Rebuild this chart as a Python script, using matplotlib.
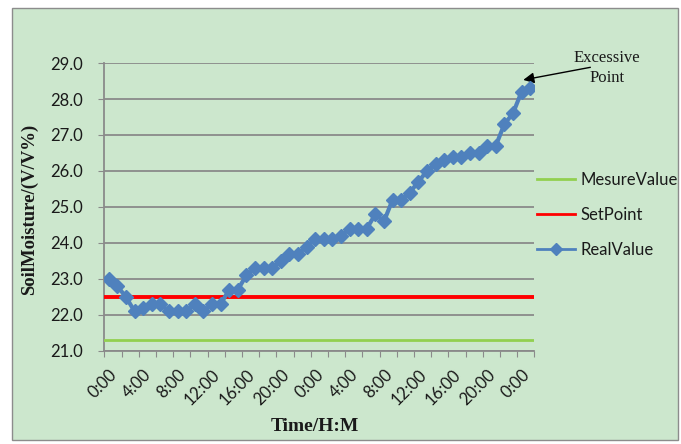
import matplotlib
matplotlib.use("Agg")
import matplotlib.pyplot as plt
from matplotlib.patches import Rectangle

# hourly readings over two days (one per category)
real_value = [23.0, 22.8, 22.5, 22.1, 22.2, 22.3, 22.3, 22.1, 22.1, 22.1,
              22.3, 22.1, 22.3, 22.3, 22.7, 22.7, 23.1, 23.3, 23.3, 23.3,
              23.5, 23.7, 23.7, 23.9, 24.1, 24.1, 24.1, 24.2, 24.4, 24.4,
              24.4, 24.8, 24.6, 25.2, 25.2, 25.4, 25.7, 26.0, 26.2, 26.3,
              26.4, 26.4, 26.5, 26.5, 26.7, 26.7, 27.3, 27.6, 28.2, 28.3]
set_point = 22.5
mesure_value = 21.3
time_labels = ["0:00", "4:00", "8:00", "12:00", "16:00", "20:00", "0:00",
               "4:00", "8:00", "12:00", "16:00", "20:00", "0:00"]
y_ticks = [21.0, 22.0, 23.0, 24.0, 25.0, 26.0, 27.0, 28.0, 29.0]

bg = "#CCE7CD"
grid_col = "#8A8A8A"
txt_col = "#1a1a1a"

fig = plt.figure(figsize=(6.81, 4.44), dpi=100)
fig.patch.set_facecolor("white")
fig.patches.append(Rectangle((12 / 681, 4 / 444), 666 / 681, 432 / 444,
                             transform=fig.transFigure, facecolor=bg,
                             edgecolor="#8C8C8C", linewidth=1, zorder=-5))

ax = fig.add_axes([0.1534, 0.2095, 0.6314, 0.6486])
ax.set_facecolor(bg)

n = len(real_value)
x = list(range(n))
ax.plot([-0.5, n - 0.5], [mesure_value, mesure_value], color="#92D050",
        linewidth=2, label="MesureValue", zorder=3)
ax.plot([-0.5, n - 0.5], [set_point, set_point], color="#FF0000",
        linewidth=2.8, label="SetPoint", zorder=3)
ax.plot(x, real_value, color="#4F81BD", linewidth=3, marker="D",
        markersize=7, label="RealValue", zorder=4)

ax.set_xlim(-0.5, n - 0.5)
ax.set_ylim(21, 29)
ax.set_yticks(y_ticks)
ax.set_yticklabels([f"{v:.1f}" for v in y_ticks])
ax.yaxis.grid(True, color=grid_col, linewidth=1.3)
ax.set_axisbelow(True)

# tick marks between categories, labels every 4 categories
ax.set_xticks([i - 0.5 for i in range(0, n + 1, 2)])
ax.set_xticklabels([])
ax.set_xticks(list(range(0, n, 4)), minor=True)
ax.set_xticklabels(time_labels, minor=True, rotation=45, ha="right",
                   va="top", rotation_mode="anchor", fontsize=12,
                   family="Lato", color=txt_col)
ax.tick_params(axis="x", which="major", length=4, color=grid_col, direction="out")
ax.tick_params(axis="x", which="minor", length=0, pad=11)
ax.tick_params(axis="y", length=4, color=grid_col, direction="out",
               labelsize=12, labelcolor=txt_col, pad=11.5)
for lab in ax.get_yticklabels():
    lab.set_family("Lato")

for s in ["top", "right"]:
    ax.spines[s].set_visible(False)
for s in ["left", "bottom"]:
    ax.spines[s].set_color(grid_col)
    ax.spines[s].set_linewidth(1.3)

ax.set_ylabel("SoilMoisture/(V/V%)", family="Liberation Serif",
              fontweight="bold", fontsize=13.5, color=txt_col)
ax.yaxis.set_label_coords(-66 / 430, 0.493)
ax.set_xlabel("Time/H:M", family="Liberation Serif", fontweight="bold",
              fontsize=14, color=txt_col)
ax.xaxis.set_label_coords(0.49, -67 / 288)

leg = ax.legend(loc="center left", bbox_to_anchor=(1.006, 0.472), frameon=False,
                labelspacing=1.15, handlelength=2.3, handletextpad=0.3,
                borderpad=0, borderaxespad=0,
                prop={"family": "Lato", "size": 12})
for line in leg.get_lines():
    line.set_linewidth(2)
    line.set_markersize(6)
for t in leg.get_texts():
    t.set_color(txt_col)

ax.text(57.9, 28.87, "Excessive\nPoint", ha="center", va="center",
        family="Liberation Serif", fontsize=12, color=txt_col, linespacing=1.35)
ax.annotate("", xy=(48.2, 28.53), xytext=(56.0, 28.88), annotation_clip=False,
            arrowprops=dict(arrowstyle="-|>", color="black", lw=1,
                            mutation_scale=16, shrinkA=0, shrinkB=0))

fig.savefig("out.png", dpi=100)
